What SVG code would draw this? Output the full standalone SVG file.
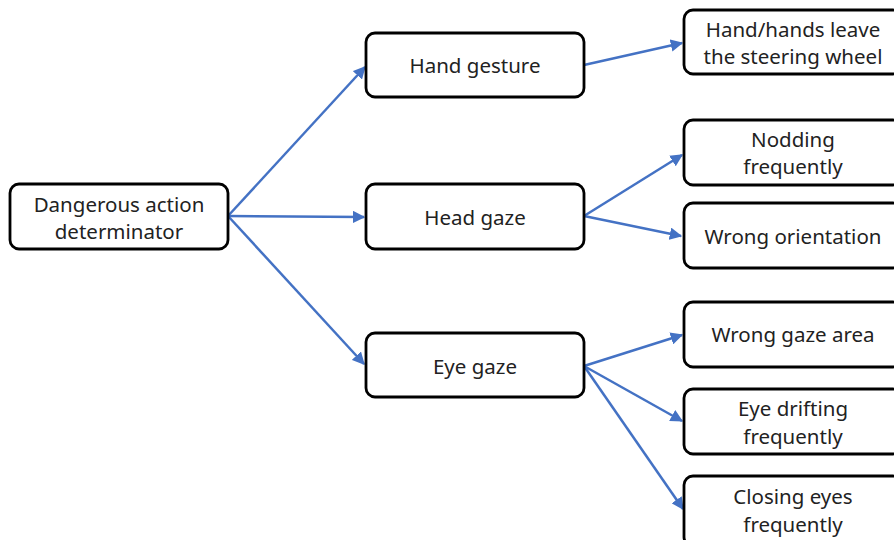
<svg xmlns="http://www.w3.org/2000/svg" width="894" height="540" viewBox="0 0 894 540">
<defs>
<marker id="ah" viewBox="0 0 10 10" refX="9" refY="5" markerWidth="5" markerHeight="5" orient="auto" markerUnits="strokeWidth">
<path d="M0,0 L10,5 L0,10 z" fill="#4472C4"/>
</marker>
<style>
.box{fill:#fff;stroke:#000;stroke-width:2.8}
.t{font-family:"Noto Sans","Liberation Sans",sans-serif;font-size:20.5px;fill:#222;text-anchor:middle}
.c{stroke:#4472C4;stroke-width:2.5;fill:none;marker-end:url(#ah)}
</style>
</defs>
<rect width="894" height="540" fill="#fff"/>
<g id="connectors">
<line class="c" x1="228" y1="216" x2="365" y2="67"/>
<line class="c" x1="228" y1="216" x2="364" y2="217"/>
<line class="c" x1="228" y1="216" x2="364" y2="364"/>
<line class="c" x1="584" y1="65" x2="682" y2="43"/>
<line class="c" x1="584" y1="216" x2="682" y2="155"/>
<line class="c" x1="584" y1="216" x2="681" y2="236"/>
<line class="c" x1="584" y1="366" x2="682" y2="335"/>
<line class="c" x1="584" y1="366" x2="682" y2="421"/>
<line class="c" x1="584" y1="366" x2="683" y2="509"/>
</g>
<g id="root"><rect class="box" x="10" y="184" width="218" height="65" rx="9"/><text class="t" x="119" y="212">Dangerous action</text><text class="t" x="119" y="239">determinator</text></g>
<g id="hand"><rect class="box" x="366" y="33" width="218" height="64" rx="9"/><text class="t" x="475" y="73">Hand gesture</text></g>
<g id="head"><rect class="box" x="366" y="184" width="218" height="65" rx="9"/><text class="t" x="475" y="225">Head gaze</text></g>
<g id="eye"><rect class="box" x="366" y="333" width="218" height="64" rx="9"/><text class="t" x="475" y="374">Eye gaze</text></g>
<g id="hands-leave"><rect class="box" x="684" y="10" width="218" height="64" rx="9"/><text class="t" x="793" y="37">Hand/hands leave</text><text class="t" x="793" y="64">the steering wheel</text></g>
<g id="nodding"><rect class="box" x="684" y="120" width="218" height="65" rx="9"/><text class="t" x="793" y="147">Nodding</text><text class="t" x="793" y="174">frequently</text></g>
<g id="wrong-orientation"><rect class="box" x="684" y="203" width="218" height="65" rx="9"/><text class="t" x="793" y="244">Wrong orientation</text></g>
<g id="wrong-gaze"><rect class="box" x="684" y="302" width="218" height="65" rx="9"/><text class="t" x="793" y="342">Wrong gaze area</text></g>
<g id="eye-drifting"><rect class="box" x="684" y="389" width="218" height="65" rx="9"/><text class="t" x="793" y="416">Eye drifting</text><text class="t" x="793" y="444">frequently</text></g>
<g id="closing-eyes"><rect class="box" x="684" y="476" width="218" height="70" rx="9"/><text class="t" x="793" y="504">Closing eyes</text><text class="t" x="793" y="532">frequently</text></g>
</svg>
